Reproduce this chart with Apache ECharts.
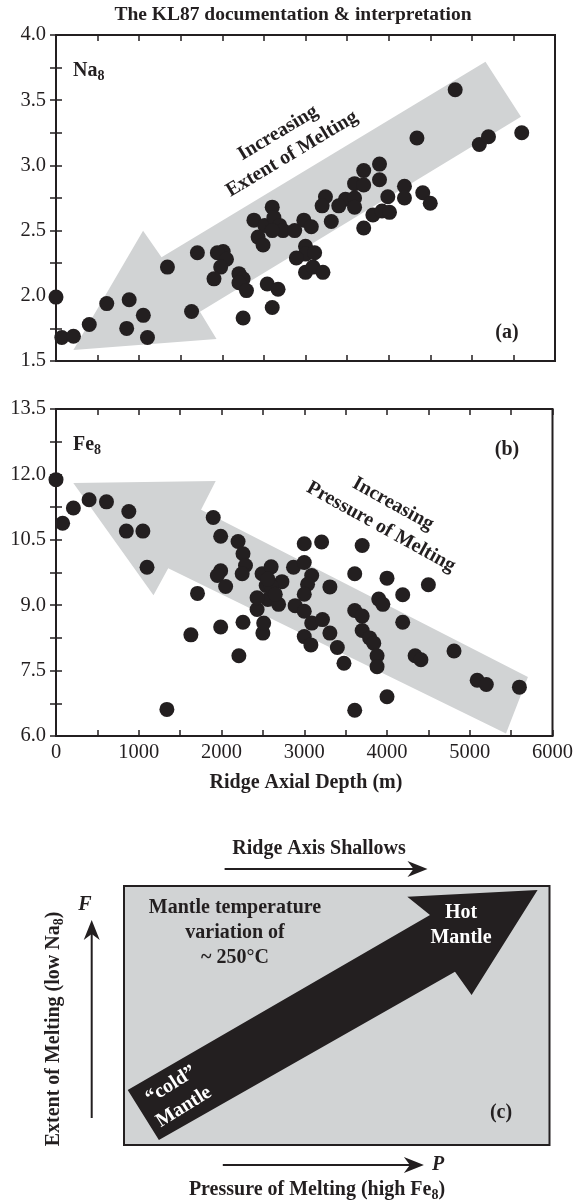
<!DOCTYPE html>
<html><head><meta charset="utf-8">
<script src="https://cdn.jsdelivr.net/npm/echarts@6/dist/echarts.min.js"></script>
<style>html,body{margin:0;padding:0;background:#fff}#c{width:576px;height:1204px}</style>
</head><body><div id="c"></div>
<script>
// ---------- data ----------
const xTickLabels = ['0','1000','2000','3000','4000','5000','6000'];
const naTickLabels = ['1.5','2.0','2.5','3.0','3.5','4.0'];
const feTickLabels = ['6.0','7.5','9.0','10.5','12.0','13.5'];

// panel (a): ridge axial depth (m) vs Na8
const naDepth = [4800,4340,5090,5200,5600,3890,3890,3700,3590,3700,4190,3240,3480,3990,4190,4410,4500,3590,3200,3400,3590,3310,3700,3810,3920,4010,2600,2380,2510,2620,2690,2730,2870,2980,3070,2430,2490,2600,2010,1940,2050,1980,1900,1700,1340,2200,2250,2200,2290,2540,2670,2600,2250,1630,3000,3000,3110,2890,3000,3090,3210,0,70,210,400,610,880,850,1050,1100];
const naValue = [3.58,3.21,3.16,3.22,3.25,3.01,2.89,2.96,2.86,2.85,2.84,2.76,2.74,2.76,2.75,2.79,2.71,2.75,2.69,2.69,2.68,2.57,2.52,2.62,2.65,2.64,2.68,2.58,2.54,2.60,2.54,2.50,2.50,2.58,2.53,2.45,2.39,2.50,2.34,2.33,2.28,2.22,2.13,2.33,2.22,2.17,2.13,2.10,2.04,2.09,2.05,1.91,1.83,1.88,2.38,2.32,2.33,2.29,2.18,2.22,2.18,1.99,1.68,1.69,1.78,1.94,1.97,1.75,1.85,1.68];

// panel (b): ridge axial depth (m) vs Fe8
const feDepth = [0,80,210,400,610,880,850,1050,1100,1900,1990,2200,2260,2290,2250,1990,1950,2050,1710,2490,2600,2730,2540,2870,3000,3210,3000,3090,3040,3310,3610,3700,4000,4500,4190,3900,1630,1990,1340,2210,2260,2430,2500,2510,2560,2690,2600,2890,3000,3090,3220,3000,3080,3310,3400,3480,3610,3700,3700,3790,3840,3880,3880,3610,4000,3950,4190,4340,4410,4810,5090,5200,5600,3000,2430,2650,2560];
const feValue = [11.88,10.88,11.23,11.42,11.37,11.15,10.70,10.70,9.87,11.01,10.58,10.46,10.18,9.91,9.72,9.79,9.68,9.43,9.27,9.72,9.88,9.54,9.45,9.87,10.41,10.45,9.98,9.68,9.48,9.42,9.72,10.37,9.62,9.47,9.24,9.14,8.32,8.50,6.61,7.84,8.61,8.90,8.36,8.59,9.13,9.02,9.44,8.99,8.86,8.59,8.67,8.28,8.09,8.36,8.03,7.67,8.88,8.75,8.42,8.25,8.13,7.84,7.59,6.59,6.90,9.02,8.61,7.84,7.75,7.95,7.28,7.18,7.12,9.25,9.17,9.25,9.60];

// annotation arrows (data coordinates of each panel)
const naArrow = [[209,1.584],[1047,2.499],[1269,2.295],[5164,3.795],[5591,3.373],[1731,1.878],[1930,1.669]];
const feArrow = [[209,11.80],[1930,11.85],[1753,11.19],[5703,7.356],[5438,6.06],[1356,9.85],[1178,9.23]];

// ---------- style ----------
const FONT = "'Liberation Serif','Times New Roman',serif";
const INK = '#231f20';
const GRAY = '#d1d3d4';
const TICKFS = 20.5;

const chart = echarts.init(document.getElementById('c'), null, {renderer:'canvas'});

function near(v, step, base){ const k=(v-base)/step; return Math.abs(k-Math.round(k))<1e-6 ? Math.round(k) : -1; }
function xAx(g, pos, labels){
  return {gridIndex:g, type:'value', min:0, max:6000, interval:500, position:pos,
    axisLine:{show:false}, splitLine:{show:false},
    axisTick:{show:true, inside:true, length:6, lineStyle:{color:INK, width:1.5}},
    axisLabel:{show:!!labels, margin:6, color:INK, fontFamily:FONT, fontSize:TICKFS, showMinLabel:true, showMaxLabel:true,
      formatter:v=>{const k=near(v,1000,0); return k>=0? xTickLabels[k]:'';}}};
}
function yAx(g, pos, min, max, step, labStep, labels){
  return {gridIndex:g, type:'value', min:min, max:max, interval:step, position:pos,
    axisLine:{show:false}, splitLine:{show:false},
    axisTick:{show:true, inside:true, length:6, lineStyle:{color:INK, width:1.5}},
    axisLabel:{show:!!labels, margin:10, color:INK, fontFamily:FONT, fontSize:TICKFS, showMinLabel:true, showMaxLabel:true,
      formatter:v=>{const k=near(v,labStep,min); return k>=0? labels[k]:'';}}};
}
function arrowSeries(points, xi, yi){
  return {type:'custom', xAxisIndex:xi, yAxisIndex:yi, silent:true, z:1, clip:false, data:[[0,0]],
    renderItem:(p,api)=>({type:'polygon', shape:{points:points.map(q=>api.coord(q))}, style:{fill:GRAY}})};
}
function txt(x,y,text,opt){
  opt=opt||{};
  return {type:'text', x:x, y:y, rotation:opt.rot||0, z:100, silent:true,
    style:{text:text, fill:opt.fill||INK, font:(opt.italic?'italic ':'')+(opt.weight||'bold')+' '+(opt.size||20)+'px '+FONT,
      align:opt.align||'center', verticalAlign:'middle', rich:opt.rich}};
}
const subRich = (fill)=>({n:{fill:fill||INK, fontFamily:FONT, fontWeight:'bold', fontSize:20},
                          s:{fill:fill||INK, fontFamily:FONT, fontWeight:'bold', fontSize:14, padding:[10,0,0,0]}});
function arrowH(x1,x2,y){ // horizontal arrow pointing right
  return [{type:'line', shape:{x1:x1,y1:y,x2:x2-12,y2:y}, style:{stroke:INK, lineWidth:2}},
          {type:'polygon', shape:{points:[[x2,y],[x2-20,y-8],[x2-14,y],[x2-20,y+8]]}, style:{fill:INK}}];
}
function arrowUp(x,y1,y2){ // from y1 (bottom) up to y2
  return [{type:'line', shape:{x1:x,y1:y1,x2:x,y2:y2+12}, style:{stroke:INK, lineWidth:2}},
          {type:'polygon', shape:{points:[[x,y2],[x-8,y2+20],[x,y2+14],[x+8,y2+20]]}, style:{fill:INK}}];
}

const deg = Math.PI/180;
const graphics = [
  txt(293,15,'The KL87 documentation & interpretation',{size:19.5}),
  txt(73,71,'{n|Na}{s|8}',{align:'left', rich:subRich()}),
  txt(73,445,'{n|Fe}{s|8}',{align:'left', rich:subRich()}),
  txt(507,333,'(a)'),
  txt(507,450,'(b)'),
  txt(278,133,'Increasing',{rot:31*deg}),
  txt(292,154,'Extent of Melting',{rot:31*deg}),
  txt(393,504,'Increasing',{rot:-29*deg}),
  txt(381,527,'Pressure of Melting',{rot:-29*deg}),
  txt(306,783,'Ridge Axial Depth (m)'),
  // panel (c)
  txt(319,849,'Ridge Axis Shallows'),
  ...arrowH(224.6,427.5,869),
  {type:'rect', shape:{x:124,y:886,width:425.5,height:259}, style:{fill:GRAY, stroke:INK, lineWidth:2}, z:10},
  {type:'polygon', shape:{points:[[127.7,1090],[430,915],[407.3,896.7],[537.6,890],[471.6,995],[455,971.7],[158.9,1140]]}, style:{fill:INK}, z:11},
  txt(235,908,'Mantle temperature'),
  txt(235,933,'variation of'),
  txt(235,958,'~ 250°C'),
  txt(461,913,'Hot',{fill:'#fff'}),
  txt(461,938,'Mantle',{fill:'#fff'}),
  txt(171,1085,'\u201Ccold\u201D',{fill:'#fff', rot:32*deg}),
  txt(184,1107,'Mantle',{fill:'#fff', rot:32*deg}),
  txt(501,1113,'(c)'),
  ...arrowUp(91.7,1118,920),
  txt(85,905,'F',{italic:true}),
  ...arrowH(222.8,423.9,1165),
  txt(432,1165,'P',{italic:true, align:'left'}),
  txt(54,1029,'{n|Extent of Melting (low Na}{s|8}{n|)}',{rot:90*deg, rich:subRich()}),
  txt(317,1190,'{n|Pressure of Melting (high Fe}{s|8}{n|)}',{rich:subRich()})
];

chart.setOption({
  animation:false,
  backgroundColor:'#fff',
  grid:[
    {left:56, top:35, width:499, height:326, show:true, borderColor:INK, borderWidth:2, backgroundColor:'transparent'},
    {left:56, top:409, width:499, height:327, show:true, borderColor:INK, borderWidth:2, backgroundColor:'transparent'}
  ],
  xAxis:[xAx(0,'bottom'), xAx(0,'top'), xAx(1,'bottom',true), xAx(1,'top')],
  yAxis:[yAx(0,'left',1.5,4.0,0.25,0.5,naTickLabels), yAx(0,'right',1.5,4.0,0.25,0.5,null),
         yAx(1,'left',6.0,13.5,0.75,1.5,feTickLabels), yAx(1,'right',6.0,13.5,0.75,1.5,null)],
  series:[
    arrowSeries(naArrow,0,0),
    arrowSeries(feArrow,2,2),
    {type:'scatter', xAxisIndex:0, yAxisIndex:0, clip:false, z:3, symbol:'circle', symbolSize:15,
     itemStyle:{color:INK, opacity:1}, data:naDepth.map((d,i)=>[d,naValue[i]])},
    {type:'scatter', xAxisIndex:2, yAxisIndex:2, clip:false, z:3, symbol:'circle', symbolSize:15,
     itemStyle:{color:INK, opacity:1}, data:feDepth.map((d,i)=>[d,feValue[i]])}
  ],
  graphic:graphics
});
</script></body></html>
